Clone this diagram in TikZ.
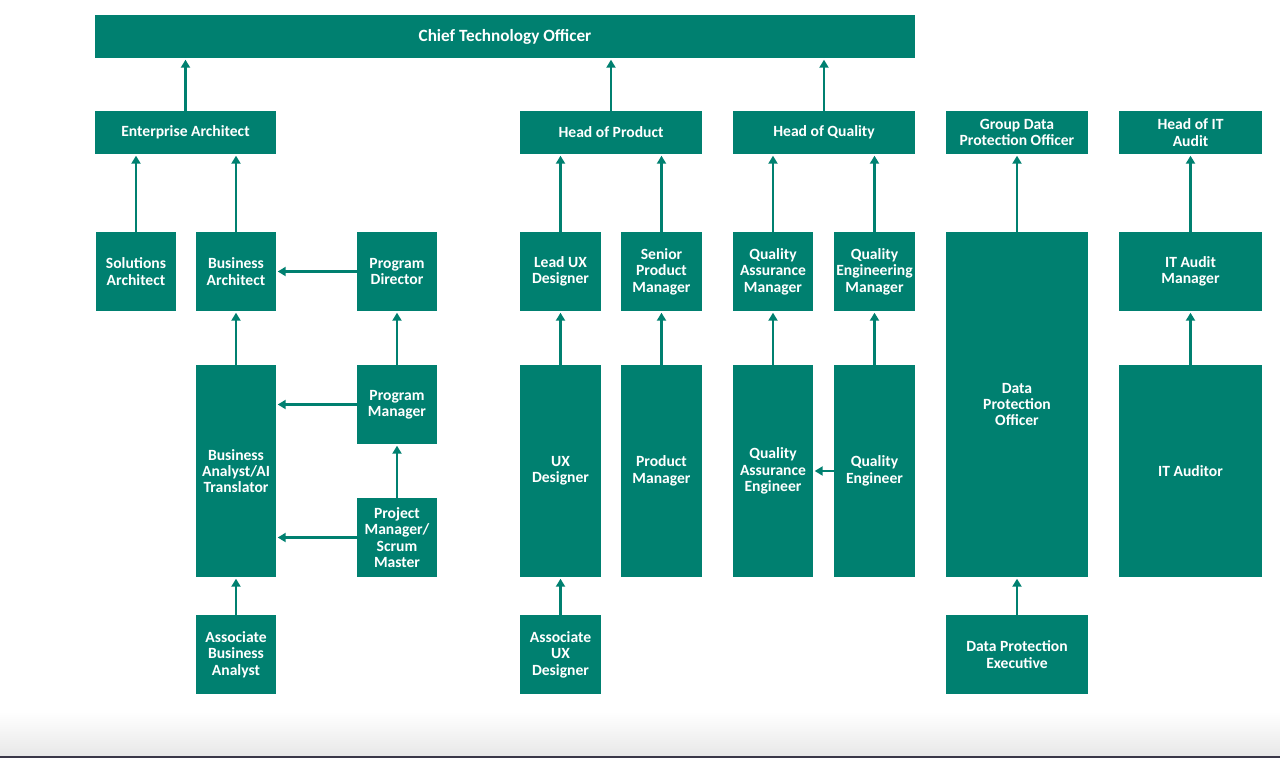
\documentclass[tikz,border=0pt]{standalone}
\usepackage{fontspec}
\setmainfont{Carlito}
\usetikzlibrary{arrows.meta}
\definecolor{teal1}{RGB}{0,128,112}
\definecolor{edge}{RGB}{58,56,72}
\newcommand\bx[6]{\node[box, minimum width={(#4-#2)*1pt}, minimum height={(#5-#3)*1pt}] (#1) at ({(#2+#4)/2},{(#3+#5)/2}) {#6};}
\begin{document}
\begin{tikzpicture}[x=1pt,y=-1pt,
 box/.style={fill=teal1, text=white, font=\bfseries\fontsize{15.6}{16.4}\selectfont, align=center, inner sep=0pt},
 arr/.style={draw=teal1, line width=2.2pt, -{Triangle[width=9pt,length=8pt]}, shorten >=1.5pt}]
\useasboundingbox (0,0) rectangle (1280,758);
\shade[top color=white, bottom color=black!9] (0,712) rectangle (1280,755.5);
\fill[edge] (0,755.5) rectangle (1280,758);
% top
\bx{cto}{95}{15}{915}{58}{\fontsize{17.2}{18}\selectfont Chief Technology Officer}
\bx{ea}{95}{111}{276}{154}{Enterprise Architect}
\bx{hop}{520}{111}{702}{154}{Head of Product}
\bx{hoq}{733}{111}{915}{154}{Head of Quality}
\bx{gdpo}{946}{111}{1088}{154}{Group Data\\Protection Officer}
\bx{hita}{1119}{111}{1262}{154}{Head of IT\\Audit}
% row 2
\bx{sa}{96}{232}{176}{311}{Solutions\\Architect}
\bx{ba}{196}{232}{276}{311}{Business\\Architect}
\bx{pd}{357}{232}{437}{311}{Program\\Director}
\bx{lux}{520}{232}{601}{311}{Lead UX\\Designer}
\bx{spm}{621}{232}{702}{311}{Senior\\Product\\Manager}
\bx{qam}{733}{232}{813}{311}{Quality\\Assurance\\Manager}
\bx{qem}{834}{232}{915}{311}{Quality\\Engineering\\Manager}
\bx{dpo}{946}{232}{1088}{577}{Data\\Protection\\Officer}
\bx{itam}{1119}{232}{1262}{311}{IT Audit\\Manager}
% row 3
\bx{baai}{196}{365}{276}{577}{Business\\Analyst/AI\\Translator}
\bx{pm}{357}{365}{437}{444}{Program\\Manager}
\bx{pjm}{357}{498}{437}{577}{Project\\Manager/\\Scrum\\Master}
\bx{ux}{520}{365}{601}{577}{UX\\Designer}
\bx{pdm}{621}{365}{702}{577}{Product\\Manager}
\bx{qae}{733}{365}{813}{577}{Quality\\Assurance\\Engineer}
\bx{qe}{834}{365}{915}{577}{Quality\\Engineer}
\bx{ita}{1119}{365}{1262}{577}{IT Auditor}
% row 4
\bx{aba}{196}{615}{276}{694}{Associate\\Business\\Analyst}
\bx{aux}{520}{615}{601}{694}{Associate\\UX\\Designer}
\bx{dpe}{946}{615}{1088}{694}{Data Protection\\Executive}
% arrows
\foreach \c/\p in {ea/cto,hop/cto,hoq/cto,sa/ea,ba/ea,baai/ba,pm/pd,pjm/pm,aba/baai,
  lux/hop,spm/hop,ux/lux,aux/ux,pdm/spm,qam/hoq,qem/hoq,qae/qam,qe/qem,dpo/gdpo,dpe/dpo,itam/hita,ita/itam}
  \draw[arr] (\c.north) -- (\c.north |- \p.south);
\foreach \c/\p in {pd/ba,pm/baai,qe/qae,pjm/baai}
  \draw[arr] (\c.west) -- (\c.west -| \p.east);
\end{tikzpicture}
\end{document}
